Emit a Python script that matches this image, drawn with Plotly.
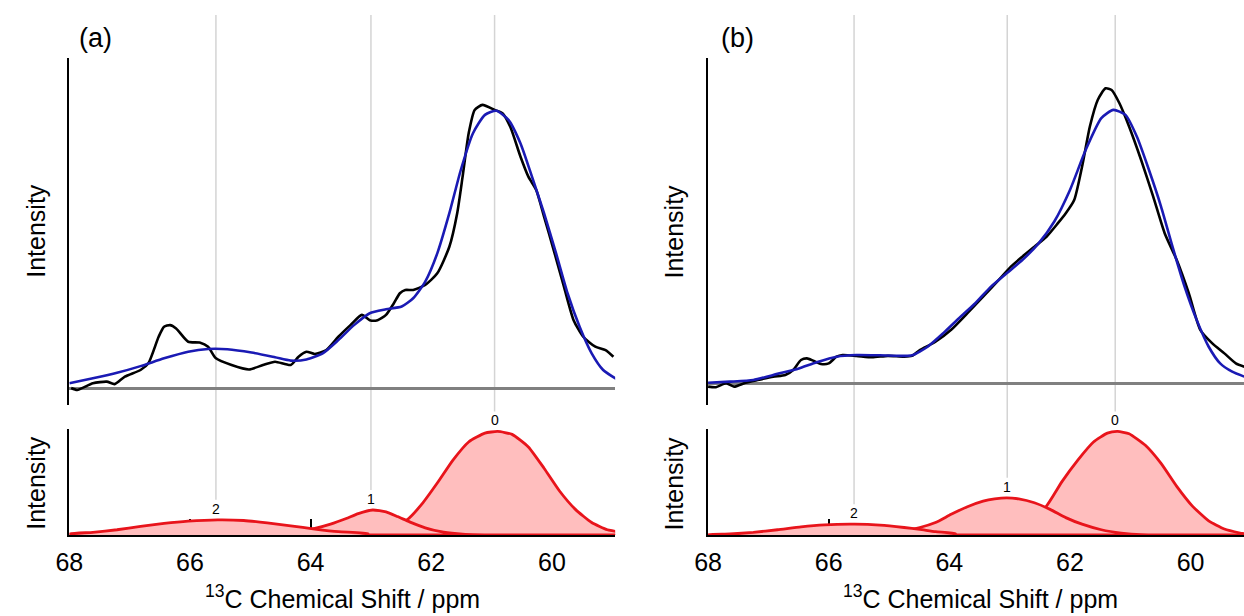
import plotly.graph_objects as go

# ---------------- data (ppm, normalized intensity) ----------------
# Panel (a) experimental spectrum (black)
exp_a_ppm = [67.97, 67.87, 67.61, 67.38, 67.25, 67.08, 66.82, 66.69, 66.52, 66.43, 66.33, 66.23, 66.03,
             65.84, 65.70, 65.57, 65.31, 65.02, 64.79, 64.59, 64.33, 64.20, 64.07, 63.93, 63.74, 63.54,
             63.34, 63.15, 63.02, 62.89, 62.75, 62.62, 62.52, 62.43, 62.30, 62.10, 61.90, 61.70, 61.57,
             61.48, 61.38, 61.28, 61.15, 60.95, 60.82, 60.69, 60.52, 60.39, 60.26, 60.13, 59.97, 59.80,
             59.64, 59.48, 59.28, 59.11, 58.98]
exp_a_int = [0.000, -0.007, 0.017, 0.023, 0.014, 0.041, 0.065, 0.089, 0.185, 0.221, 0.227, 0.215, 0.167,
             0.164, 0.149, 0.107, 0.083, 0.067, 0.083, 0.095, 0.083, 0.113, 0.131, 0.123, 0.137, 0.185,
             0.227, 0.264, 0.245, 0.245, 0.264, 0.306, 0.342, 0.354, 0.354, 0.372, 0.414, 0.510, 0.631,
             0.763, 0.919, 1.004, 1.022, 1.004, 0.992, 0.943, 0.835, 0.763, 0.715, 0.619, 0.498, 0.366,
             0.245, 0.185, 0.149, 0.137, 0.113]
# Panel (a) fit (blue)
fit_a_ppm = [68.00, 67.61, 67.21, 66.82, 66.43, 66.03, 65.70, 65.38, 64.98, 64.59, 64.33, 64.07, 63.80,
             63.54, 63.28, 63.02, 62.75, 62.49, 62.30, 62.10, 61.90, 61.70, 61.51, 61.31, 61.11, 60.92,
             60.72, 60.52, 60.33, 60.13, 59.93, 59.74, 59.54, 59.34, 59.15, 58.92]
fit_a_int = [0.017, 0.035, 0.055, 0.079, 0.107, 0.131, 0.141, 0.140, 0.128, 0.111, 0.099, 0.103, 0.125,
             0.173, 0.227, 0.270, 0.284, 0.294, 0.324, 0.384, 0.486, 0.631, 0.787, 0.919, 0.986, 1.001,
             0.968, 0.883, 0.763, 0.631, 0.486, 0.342, 0.221, 0.125, 0.065, 0.031]

# Panel (b) experimental spectrum (black)
exp_b_ppm = [68.00, 67.87, 67.70, 67.57, 67.38, 67.18, 66.92, 66.72, 66.59, 66.46, 66.36, 66.26, 66.13,
             66.00, 65.87, 65.77, 65.54, 65.28, 65.02, 64.75, 64.62, 64.49, 64.23, 63.97, 63.70, 63.44,
             63.18, 62.98, 62.79, 62.59, 62.39, 62.20, 62.07, 61.93, 61.80, 61.67, 61.54, 61.41, 61.31,
             61.18, 61.02, 60.82, 60.62, 60.43, 60.23, 60.03, 59.84, 59.64, 59.44, 59.25, 59.11]
exp_b_int = [-0.012, -0.014, 0.000, -0.012, 0.002, 0.012, 0.024, 0.030, 0.048, 0.084, 0.090, 0.082, 0.070,
             0.072, 0.096, 0.102, 0.099, 0.094, 0.099, 0.096, 0.099, 0.120, 0.150, 0.193, 0.253, 0.313,
             0.373, 0.421, 0.457, 0.493, 0.529, 0.578, 0.614, 0.662, 0.782, 0.927, 1.023, 1.065, 1.059,
             1.011, 0.927, 0.806, 0.674, 0.542, 0.445, 0.325, 0.193, 0.144, 0.108, 0.072, 0.060]
# Panel (b) fit (blue)
fit_b_ppm = [68.00, 67.64, 67.25, 66.85, 66.52, 66.20, 65.87, 65.54, 65.15, 64.75, 64.62, 64.36, 64.10,
             63.84, 63.57, 63.31, 63.05, 62.79, 62.52, 62.26, 62.00, 61.74, 61.48, 61.28, 61.08, 60.89,
             60.69, 60.49, 60.30, 60.10, 59.90, 59.70, 59.51, 59.31, 59.11]
fit_b_int = [0.002, 0.006, 0.012, 0.034, 0.052, 0.076, 0.096, 0.102, 0.101, 0.099, 0.101, 0.132, 0.181,
             0.235, 0.289, 0.349, 0.397, 0.445, 0.505, 0.584, 0.698, 0.842, 0.957, 0.987, 0.969, 0.890,
             0.770, 0.638, 0.493, 0.349, 0.229, 0.132, 0.072, 0.042, 0.024]

# Components, panel (a)
c0_a_ppm = [63.40, 63.00, 62.70, 62.39, 62.16, 61.90, 61.64, 61.38, 61.11, 60.90, 60.66, 60.39, 60.13,
            59.87, 59.61, 59.34, 59.08, 58.90]
c0_a_int = [0.000, 0.020, 0.060, 0.153, 0.297, 0.505, 0.728, 0.904, 0.990, 1.006, 0.978, 0.856, 0.649,
            0.425, 0.249, 0.121, 0.051, 0.026]
c1_a_ppm = [65.10, 64.70, 64.30, 63.93, 63.67, 63.41, 63.21, 62.97, 62.75, 62.56, 62.36, 62.10, 61.84,
            61.57, 61.31, 60.50, 58.90]
c1_a_int = [0.000, 0.010, 0.030, 0.064, 0.105, 0.160, 0.208, 0.243, 0.224, 0.179, 0.128, 0.070, 0.032,
            0.013, 0.003, 0.000, 0.000]
c2_a_ppm = [68.00, 67.61, 67.21, 66.82, 66.43, 66.03, 65.54, 65.11, 64.72, 64.33, 63.93, 63.54, 63.05]
c2_a_int = [0.010, 0.026, 0.051, 0.083, 0.112, 0.134, 0.147, 0.141, 0.118, 0.089, 0.058, 0.032, 0.013]

# Components, panel (b)
c0_b_ppm = [63.80, 63.40, 63.00, 62.70, 62.39, 62.13, 61.87, 61.61, 61.38, 61.21, 61.02, 60.75, 60.49,
            60.23, 59.97, 59.70, 59.44, 59.18, 59.06]
c0_b_int = [0.000, 0.010, 0.040, 0.120, 0.281, 0.521, 0.728, 0.904, 0.990, 1.006, 0.984, 0.872, 0.696,
            0.473, 0.281, 0.137, 0.058, 0.019, 0.006]
c1_b_ppm = [65.80, 65.30, 64.90, 64.49, 64.23, 63.97, 63.70, 63.44, 63.25, 63.05, 62.85, 62.59, 62.33,
            62.07, 61.80, 61.48, 61.15, 60.82, 59.06]
c1_b_int = [0.000, 0.010, 0.030, 0.073, 0.121, 0.201, 0.275, 0.329, 0.351, 0.361, 0.351, 0.313, 0.249,
            0.169, 0.105, 0.051, 0.019, 0.003, 0.000]
c2_b_ppm = [68.00, 67.64, 67.25, 66.85, 66.46, 66.07, 65.57, 65.15, 64.75, 64.49, 64.23, 63.90]
c2_b_int = [0.003, 0.010, 0.026, 0.051, 0.080, 0.099, 0.105, 0.096, 0.073, 0.054, 0.032, 0.013]

comp_labels = ["0", "1", "2"]
centers_a = [60.95, 63.00, 65.57]
peaks_a = [1.006, 0.243, 0.147]
centers_b = [61.25, 63.04, 65.58]
peaks_b = [1.006, 0.361, 0.105]

tick_vals = [68, 66, 64, 62, 60]
panel_labels = ["(a)", "(b)"]
x_title = "<sup>13</sup>C Chemical Shift / ppm"
y_title = "Intensity"

# ---------------- layout geometry ----------------
W, H = 1244, 616
FONT = "Liberation Sans, Arial, sans-serif"
BLACK = "#000000"
BLUE = "#1a1ab4"
RED = "#e8141b"
PINK = "rgb(255,190,190)"
GRID = "#d4d4d4"

def px_x(p):
    return p / W

def px_y(p):
    return 1 - p / H

xa_dom = [px_x(56), px_x(608)]
xb_dom = [px_x(702), 1.0]
top_dom = [px_y(405), px_y(58)]
bot_dom = [px_y(535), px_y(429)]
xa_rng = [68, 68 - 552 / 61]
xb_rng = [68, 68 - 542 / 61]
ya_rng = [-(405 - 388) / 277, (388 - 58) / 277]
yb_rng = [-(405 - 383.3) / 277, (383.3 - 58) / 277]
bot_rng = [0, 1.03]

fig = go.Figure()

def line(x, y, color, xa, ya, width=2.6):
    fig.add_trace(go.Scatter(x=x, y=y, mode="lines", xaxis=xa, yaxis=ya,
                             line=dict(color=color, width=width, shape="spline", smoothing=0.6),
                             showlegend=False, hoverinfo="skip"))

def comp(x, y, xa, ya):
    xs = [x[0]] + list(x) + [x[-1], x[0]]
    ys = [0] + list(y) + [0, 0]
    fig.add_trace(go.Scatter(x=xs, y=ys, mode="lines", xaxis=xa, yaxis=ya, fill="toself",
                             fillcolor=PINK, line=dict(color=RED, width=2.8, shape="spline", smoothing=0.5),
                             showlegend=False, hoverinfo="skip"))

# top panels
line(exp_a_ppm, exp_a_int, BLACK, "x", "y")
line(fit_a_ppm, fit_a_int, BLUE, "x", "y")
line(exp_b_ppm, exp_b_int, BLACK, "x3", "y3")
line(fit_b_ppm, fit_b_int, BLUE, "x3", "y3")

# component panels (order: 0, 1, 2 on top)
comp(c0_a_ppm, c0_a_int, "x2", "y2")
comp(c1_a_ppm, c1_a_int, "x2", "y2")
comp(c2_a_ppm, c2_a_int, "x2", "y2")
comp(c0_b_ppm, c0_b_int, "x4", "y4")
comp(c1_b_ppm, c1_b_int, "x4", "y4")
comp(c2_b_ppm, c2_b_int, "x4", "y4")

top_x = dict(visible=False, showgrid=False, zeroline=False)
top_y = dict(showline=True, linecolor=BLACK, linewidth=2, showticklabels=False, ticks="",
             showgrid=False, zeroline=True, zerolinecolor="#808080", zerolinewidth=2.5)
bot_x = dict(showline=True, linecolor=BLACK, linewidth=2, ticks="inside", ticklen=16, tickwidth=1.5,
             tickcolor=BLACK, tickvals=tick_vals, ticktext=[str(v) for v in tick_vals],
             tickfont=dict(family=FONT, size=25, color=BLACK), showgrid=False, zeroline=False,
             layer="below traces", ticklabelstandoff=4)
bot_y = dict(showline=True, linecolor=BLACK, linewidth=2, showticklabels=False, ticks="",
             showgrid=False, zeroline=False, range=bot_rng)

fig.update_layout(
    width=W, height=H, autosize=False,
    margin=dict(l=0, r=0, t=0, b=0),
    paper_bgcolor="white", plot_bgcolor="white",
    xaxis=dict(domain=xa_dom, range=xa_rng, anchor="y", **top_x),
    yaxis=dict(domain=top_dom, range=ya_rng, anchor="x", **top_y),
    xaxis2=dict(domain=xa_dom, range=xa_rng, anchor="y2", **bot_x),
    yaxis2=dict(domain=bot_dom, anchor="x2", **bot_y),
    xaxis3=dict(domain=xb_dom, range=xb_rng, anchor="y3", **top_x),
    yaxis3=dict(domain=top_dom, range=yb_rng, anchor="x3", **top_y),
    xaxis4=dict(domain=xb_dom, range=xb_rng, anchor="y4", **bot_x),
    yaxis4=dict(domain=bot_dom, anchor="x4", **bot_y),
)

# gridlines + component labels
def peak_paper(v):
    return bot_dom[0] + v / bot_rng[1] * (bot_dom[1] - bot_dom[0])

for xa, ya, centers, peaks in [("x2", "y2", centers_a, peaks_a), ("x4", "y4", centers_b, peaks_b)]:
    for lab, c, p in zip(comp_labels, centers, peaks):
        fig.add_shape(type="line", xref=xa, yref="paper", x0=c, x1=c,
                      y0=peak_paper(p) + 20 / H, y1=px_y(15),
                      line=dict(color=GRID, width=1.5), layer="below")
        fig.add_annotation(x=c, y=p, xref=xa, yref=ya, text=lab, showarrow=False,
                           yanchor="bottom", yshift=1, font=dict(family=FONT, size=14, color=BLACK))

# panel labels
for txt, xp in zip(panel_labels, [82, 732]):
    fig.add_annotation(x=px_x(xp), y=px_y(38), xref="paper", yref="paper", text=txt, showarrow=False,
                       xanchor="center", yanchor="middle", font=dict(family=FONT, size=27, color=BLACK))

# y titles
for xp in [22, 668]:
    for yp in [231, 483]:
        fig.add_annotation(x=px_x(xp), y=px_y(yp), xref="paper", yref="paper", text=y_title,
                           showarrow=False, textangle=-90, xanchor="center", yanchor="middle",
                           font=dict(family=FONT, size=25, color=BLACK))

# x titles
for xp in [332, 978]:
    fig.add_annotation(x=px_x(xp), y=px_y(597), xref="paper", yref="paper", text=x_title,
                       showarrow=False, xanchor="center", yanchor="middle",
                       font=dict(family=FONT, size=25, color=BLACK))

fig.write_html(
    "out.html",
    config={"displayModeBar": False},
    post_script="document.body.style.margin='0px';document.body.style.padding='0px';"
                "document.body.style.overflow='hidden';",
)
